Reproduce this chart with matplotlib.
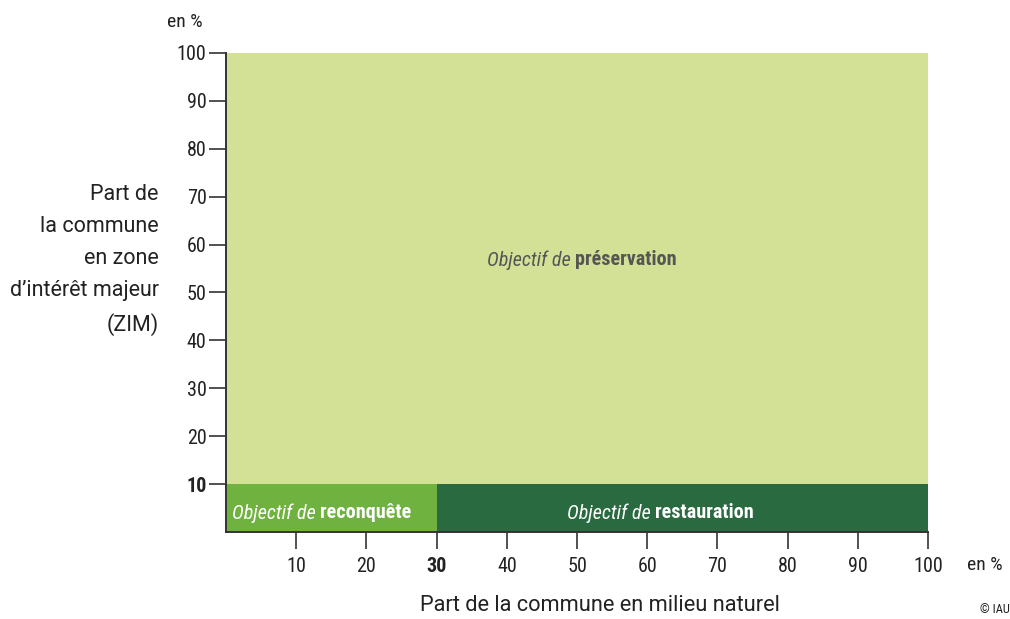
import matplotlib.pyplot as plt
from matplotlib import font_manager

# zones: (x start, x end, y start, y end)
zone_names = ['préservation', 'reconquête', 'restauration']
zone_x0 = [0, 0, 30]
zone_x1 = [100, 30, 100]
zone_y0 = [10, 0, 0]
zone_y1 = [100, 10, 10]
zone_colors = ['#d3e196', '#6fb23f', '#296a41']

x_ticks = [10, 20, 30, 40, 50, 60, 70, 80, 90, 100]
y_ticks = [10, 20, 30, 40, 50, 60, 70, 80, 90, 100]
x_bold = 30
y_bold = 10

names = {f.name for f in font_manager.fontManager.ttflist}
font = 'Roboto'
for cand in ['Roboto Condensed', 'Liberation Sans Narrow', 'Arial Narrow']:
    if cand in names:
        font = cand
        break
plt.rcParams['font.family'] = [font, 'DejaVu Sans']
wide = ['Roboto', 'DejaVu Sans']

fig = plt.figure(figsize=(10.1, 6.19), dpi=100)
ax = fig.add_axes([0.2238, 0.1405, 0.695, 0.774])

for x0, x1, y0, y1, c in zip(zone_x0, zone_x1, zone_y0, zone_y1, zone_colors):
    ax.bar(x0, y1 - y0, width=x1 - x0, bottom=y0, align='edge', color=c, linewidth=0)

ax.set_xlim(0, 100)
ax.set_ylim(0, 100)
for s in ['top', 'right']:
    ax.spines[s].set_visible(False)
for s in ['left', 'bottom']:
    ax.spines[s].set_color('#333333')
    ax.spines[s].set_linewidth(1.4)
    ax.spines[s].set_zorder(5)

ax.set_xticks(x_ticks)
ax.set_yticks(y_ticks)
ax.set_xticklabels([str(v) for v in x_ticks])
ax.set_yticklabels([str(v) for v in y_ticks])
ax.tick_params(axis='both', length=12, width=1.2, color='#333333',
               labelsize=14.5, labelcolor='#222222')
ax.tick_params(axis='x', pad=6)
ax.tick_params(axis='y', pad=2)
for lab, v in zip(ax.get_xticklabels(), x_ticks):
    if v == x_bold:
        lab.set_fontweight('bold')
for lab, v in zip(ax.get_yticklabels(), y_ticks):
    if v == y_bold:
        lab.set_fontweight('bold')

# zone labels: italic "Objectif de" + bold name
labels = [(49.1, 56.8, '#555555', 'préservation'),
          (12.8, 4.0, 'white', 'reconquête'),
          (60.5, 4.0, 'white', 'restauration')]
for x, y, c, name in labels:
    ax.text(x, y, 'Objectif de', style='italic', color=c, fontsize=14.5,
            ha='right', va='center', zorder=6)
    ax.text(x + 0.6, y, name, fontweight='bold', color=c, fontsize=14.5,
            ha='left', va='center', zorder=6)

fig.text(0.157, 0.58, "Part de\nla commune\nen zone\nd’intérêt majeur\n(ZIM)",
         ha='right', va='center', fontsize=15.5, color='#222222', linespacing=1.68,
         family=wide)
fig.text(0.594, 0.022, 'Part de la commune en milieu naturel',
         ha='center', va='center', fontsize=15.7, color='#222222', family=wide)
fig.text(0.183, 0.965, 'en %', ha='center', va='center', fontsize=14, color='#222222')
fig.text(0.975, 0.087, 'en %', ha='center', va='center', fontsize=14, color='#222222')
fig.text(0.985, 0.005, '© IAU', ha='center', va='bottom', fontsize=9, color='#222222')

fig.savefig('out.png', dpi=100, facecolor='white')
